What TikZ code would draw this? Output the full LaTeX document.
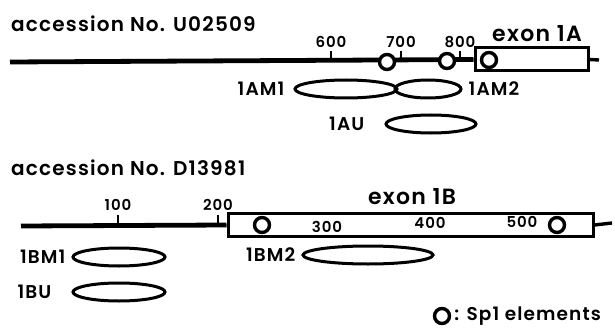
\documentclass[tikz,border=0pt]{standalone}
\usepackage{fontspec}
\setmainfont{Poppins SemiBold}[LetterSpace=6, Numbers=Monospaced]
\usetikzlibrary{positioning, shapes.geometric}

\begin{document}
\begin{tikzpicture}[
  x=1pt, y=-1pt,
  dna/.style={line width=4.8pt},
  exonbox/.style={draw, line width=3pt, minimum height=23pt, inner sep=0pt},
  sp1/.style={circle, draw, line width=3.4pt, fill=white, minimum size=15pt, inner sep=0pt},
  probe/.style={ellipse, draw, line width=3pt, minimum height=18pt, inner sep=0pt},
  tick/.style={line width=2.8pt},
  lab/.style={font=\fontsize{18.5}{18.5}\selectfont, inner sep=0pt},
  num/.style={font=\fontsize{15}{15}\selectfont, inner sep=1pt},
  head/.style={font=\fontsize{20}{20}\selectfont, anchor=west, inner sep=0pt},
  exonlab/.style={font=\fontsize{22}{22}\selectfont, inner sep=0pt}
]
\useasboundingbox (0,0) rectangle (615,334);

% accession No. U02509
\node[head] (accA) at (11,24) {accession No. U02509};
\coordinate (a0) at (10,62);
\coordinate (a1) at (599,60);
\node[exonbox, minimum width=113pt] (exA) at (531.5,59.5) {};
\node[exonlab] at (537,34) {exon 1A};
\draw[dna] (a0) -- (exA.west);
\draw[line width=3.4pt] (exA.east) -- (a1);
% scale
\foreach \x/\n in {331/600, 401/700, 460/800} {
  \draw[tick] (\x,62) -- (\x,51);
  \node[num] at (\x,42) {\n};
}
\node[sp1] (sa1) at (387,62) {};
\node[sp1] (sa2) at (447,61) {};
\node[sp1] (sa3) at (489,60) {};
% probes
\node[probe, minimum width=102pt] (am1) at (346,89) {};
\node[probe, minimum width=66pt] (am2) at (428,89) {};
\node[probe, minimum width=90pt] (au) at (431,124) {};
\node[lab, left=9pt of am1] {1AM1};
\node[lab, right=6pt of am2] {1AM2};
\node[lab, left=20pt of au] {1AU};

% accession No. D13981
\node[head] (accB) at (11,168) {accession No. D13981};
\coordinate (b0) at (21,226);
\coordinate (b1) at (612,223);
\node[exonbox, minimum width=365pt] (exB) at (410.5,225) {};
\node[exonlab] at (412,197) {exon 1B};
\draw[dna] (b0) -- (exB.west);
\draw[line width=3.4pt] (exB.east) -- (b1);
\foreach \x/\n in {118/100, 218/200} {
  \draw[tick] (\x,226) -- (\x,215);
  \node[num] at (\x,205) {\n};
}
\node[num] at (327,227) {300};
\node[num] at (430,223) {400};
\node[num] at (522,222) {500};
\node[sp1] (sb1) at (262,225) {};
\node[sp1] (sb2) at (557,225) {};
% probes
\node[probe, minimum width=92pt] (bm1) at (119,257) {};
\node[probe, minimum width=92pt] (bu) at (119,292) {};
\node[probe, minimum width=130pt] (bm2) at (368,255) {};
\node[lab, left=6pt of bm1] {1BM1};
\node[lab, left=20pt of bu] {1BU};
\node[lab, left=6pt of bm2] {1BM2};

% legend
\node[sp1] (key) at (442,316) {};
\node[lab, right=3pt of key] {: Sp1 elements};
\end{tikzpicture}
\end{document}
